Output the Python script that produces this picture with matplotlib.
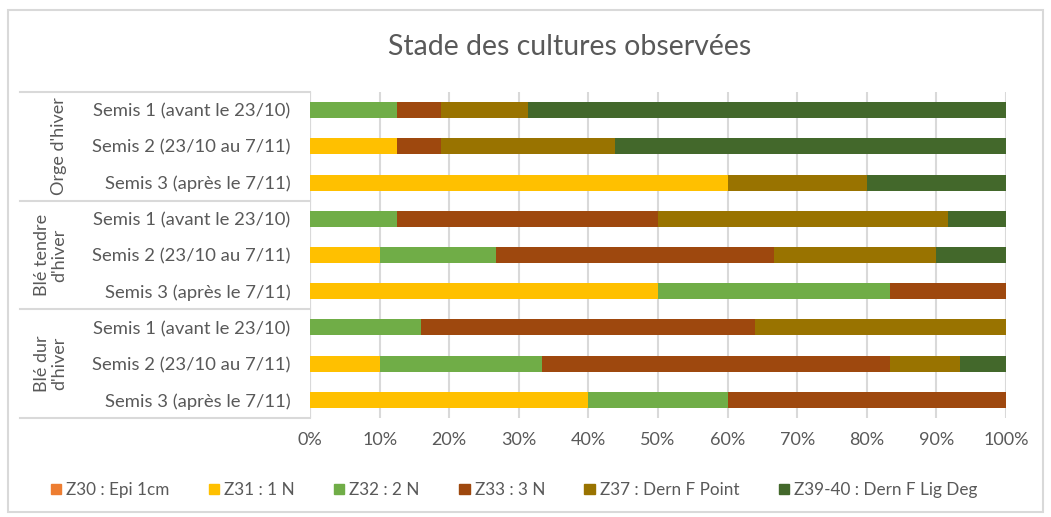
import numpy as np
import matplotlib.pyplot as plt
from matplotlib.patches import Rectangle, Patch

plt.rcParams['font.family'] = ['Lato', 'DejaVu Sans']

rows = ['Semis 1 (avant le 23/10)', 'Semis 2 (23/10 au 7/11)', 'Semis 3 (après le 7/11)'] * 3
groups = ["Orge d'hiver", "Blé tendre\nd'hiver", "Blé dur\nd'hiver"]
stades = ['Z30 : Epi 1cm', 'Z31 : 1 N', 'Z32 : 2 N', 'Z33 : 3 N',
          'Z37 : Dern F Point', 'Z39-40 : Dern F Lig Deg']
colors = ['#ED7D31', '#FFC000', '#70AD47', '#9E480E', '#997300', '#43682B']

# percentages per row (top to bottom), one list per stade
z30 = [0, 0, 0, 0, 0, 0, 0, 0, 0]
z31 = [0, 12.5, 60, 0, 10, 50, 0, 10, 40]
z32 = [12.5, 0, 0, 12.5, 16.67, 33.33, 16, 23.33, 20]
z33 = [6.25, 6.25, 0, 37.5, 40, 16.67, 48, 50, 40]
z37 = [12.5, 25, 20, 41.67, 23.33, 0, 36, 10, 0]
z39 = [68.75, 56.25, 20, 8.33, 10, 0, 0, 6.67, 0]
series = [z30, z31, z32, z33, z37, z39]

W, H = 1051, 517
fig = plt.figure(figsize=(W / 100, H / 100), dpi=100)
ax = fig.add_axes([310 / W, 1 - 418 / H, 696 / W, 326 / H])

y = np.arange(len(rows))
left = np.zeros(len(rows))
for vals, c, lab in zip(series, colors, stades):
    ax.barh(y, vals, left=left, height=0.44, color=c, label=lab, zorder=3)
    left += np.array(vals)

ax.set_xlim(0, 100)
ax.set_ylim(8.5, -0.5)
ax.set_xticks(np.arange(0, 101, 10))
ax.set_xticklabels([f'{v}%' for v in range(0, 101, 10)], fontsize=13, color='#595959')
ax.set_yticks(y)
ax.set_yticklabels(rows, fontsize=13.3, color='#595959')
ax.tick_params(length=0, pad=14)
ax.tick_params(axis='x', pad=10)
ax.xaxis.grid(True, color='#D9D9D9', linewidth=1.5, zorder=0)
for s in ax.spines.values():
    s.set_visible(False)
ax.axvline(0, color='#D9D9D9', linewidth=1.5, zorder=1)

# group separators and labels
x0 = (20 - 310) / 696
for b in [-0.5, 2.5, 5.5, 8.5]:
    ax.plot([x0, 0], [b, b], transform=ax.get_yaxis_transform(), color='#D9D9D9',
            linewidth=1.5, clip_on=False)
for i, g in enumerate(groups):
    ax.text((67 - 310) / 696, 3 * i + 1, g, transform=ax.get_yaxis_transform(),
            rotation=90, ha='right', va='center', fontsize=13, color='#595959',
            multialignment='center', linespacing=1.1)

fig.text(570 / W, 1 - 47 / H, 'Stade des cultures observées', ha='center', va='center',
         fontsize=20.5, color='#595959')

handles = [Patch(color=c) for c in colors]
fig.legend(handles, stades, loc='center', bbox_to_anchor=(514 / W, 1 - 490 / H), ncol=6,
           frameon=False, fontsize=12.3, handlelength=0.6, handleheight=0.6,
           handletextpad=0.3, columnspacing=2.3, labelcolor='#595959')

fig.patches.append(Rectangle((8 / W, 1 - 512 / H), 1035 / W, 502 / H, fill=False,
                             edgecolor='#D9D9D9', linewidth=1.5, transform=fig.transFigure))

fig.savefig('out.png', dpi=100)
